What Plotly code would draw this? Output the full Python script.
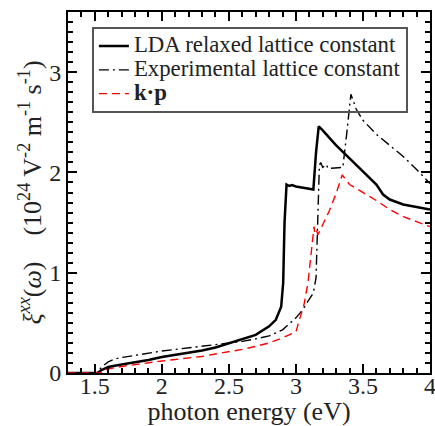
import plotly.graph_objects as go

# Photon energy grid (eV) and second-order response xi^xx for each model
e_lda = [1.30, 1.52, 1.55, 1.60, 1.70, 1.80, 1.90, 2.00, 2.10, 2.20, 2.30, 2.40,
         2.50, 2.60, 2.70, 2.80, 2.85, 2.89, 2.905, 2.915, 2.93, 2.95, 2.97, 3.00,
         3.05, 3.10, 3.13, 3.15, 3.17, 3.20, 3.30, 3.40, 3.50, 3.60, 3.65, 3.70,
         3.80, 3.90, 4.00]
xi_lda = [0.0, 0.0, 0.03, 0.06, 0.085, 0.105, 0.13, 0.16, 0.18, 0.20, 0.225, 0.255,
          0.295, 0.335, 0.38, 0.465, 0.53, 0.66, 0.90, 1.50, 1.88, 1.865, 1.875, 1.86,
          1.85, 1.84, 1.83, 2.20, 2.46, 2.42, 2.27, 2.14, 2.01, 1.88, 1.78, 1.73,
          1.68, 1.655, 1.63]

e_exp = [1.30, 1.52, 1.55, 1.60, 1.65, 1.70, 1.80, 1.90, 2.00, 2.10, 2.20, 2.30,
         2.40, 2.50, 2.60, 2.70, 2.80, 2.90, 3.00, 3.05, 3.10, 3.13, 3.15, 3.165,
         3.175, 3.185, 3.20, 3.225, 3.24, 3.29, 3.35, 3.38, 3.41, 3.45, 3.50, 3.60,
         3.70, 3.80, 3.90, 4.00]
xi_exp = [0.0, 0.0, 0.06, 0.11, 0.14, 0.155, 0.175, 0.20, 0.22, 0.235, 0.25, 0.265,
          0.28, 0.295, 0.315, 0.34, 0.37, 0.43, 0.55, 0.63, 0.73, 0.80, 0.95, 1.50,
          2.07, 2.10, 2.05, 2.08, 2.04, 2.045, 2.05, 2.40, 2.78, 2.63, 2.52, 2.38,
          2.27, 2.16, 2.03, 1.89]

e_kp = [1.30, 1.54, 1.56, 1.60, 1.70, 1.80, 1.90, 2.00, 2.10, 2.20, 2.30, 2.40,
        2.50, 2.60, 2.70, 2.80, 2.90, 3.00, 3.03, 3.06, 3.09, 3.11, 3.13, 3.135,
        3.14, 3.15, 3.165, 3.20, 3.25, 3.30, 3.345, 3.40, 3.50, 3.60, 3.70, 3.80,
        3.90, 4.00]
xi_kp = [0.0, 0.0, 0.02, 0.04, 0.065, 0.085, 0.105, 0.12, 0.135, 0.15, 0.165, 0.19,
         0.21, 0.235, 0.265, 0.30, 0.35, 0.41, 0.55, 0.68, 0.90, 1.15, 1.42, 1.46,
         1.40, 1.43, 1.38, 1.48, 1.62, 1.79, 1.975, 1.88, 1.80, 1.72, 1.63, 1.56,
         1.51, 1.46]

series_names = ["LDA relaxed lattice constant", "Experimental lattice constant", "<b>k·p</b>"]

FONT = "Liberation Serif"
TEXT = "#222222"


def legend_label(text):
    # legend rows are spaced by the (small) legend font; labels render larger
    return f'<span style="font-size:22.8px">{text}</span>'


fig = go.Figure()
fig.add_trace(go.Scatter(x=e_lda, y=xi_lda, mode="lines",
                         name=legend_label(series_names[0]),
                         line=dict(color="black", width=2.5)))
fig.add_trace(go.Scatter(x=e_exp, y=xi_exp, mode="lines",
                         name=legend_label(series_names[1]),
                         line=dict(color="black", width=1.4, dash="10px,4px,2px,4px")))
fig.add_trace(go.Scatter(x=e_kp, y=xi_kp, mode="lines",
                         name=legend_label(series_names[2]),
                         line=dict(color="#ff0000", width=1.4, dash="8px,5px")))

axis_common = dict(
    showline=True, linecolor="black", linewidth=2, mirror="allticks",
    ticks="inside", ticklen=9, tickwidth=1.5, tickcolor="black",
    showgrid=False, zeroline=False, automargin=False,
    ticklabeloverflow="allow",
    tickfont=dict(family=FONT, size=24, color=TEXT),
)

fig.update_xaxes(
    range=[1.3, 4.0], dtick=0.5, tick0=0,
    minor=dict(dtick=0.1, ticks="inside", ticklen=5, tickwidth=1.5, tickcolor="black"),
    ticklabelstandoff=-10,
    title=dict(text="photon energy (eV)", font=dict(family=FONT, size=26, color=TEXT),
               standoff=0),
    **axis_common,
)
fig.update_yaxes(
    range=[0, 3.6], dtick=1, tick0=0,
    minor=dict(dtick=0.1, ticks="inside", ticklen=5, tickwidth=1.5, tickcolor="black"),
    title=dict(text="<i>ξ</i><sup><i>xx</i></sup>(<i>ω</i>)    "
                    "(10<sup>24</sup> V<sup>-2</sup> m<sup>-1</sup> s<sup>-1</sup>)",
               font=dict(family=FONT, size=26, color=TEXT), standoff=0),
    **axis_common,
)

fig.update_layout(
    width=435, height=426,
    margin=dict(l=68, r=5, t=12, b=53),
    paper_bgcolor="white", plot_bgcolor="white",
    font=dict(family=FONT, color=TEXT),
    showlegend=True,
    legend=dict(x=0.066, y=0.958, xanchor="left", yanchor="top",
                bgcolor="rgba(255,255,255,0)", bordercolor="#555555", borderwidth=2,
                font=dict(family=FONT, size=16, color=TEXT),
                tracegroupgap=0, itemwidth=30),
)

fig.write_html("out.html")
